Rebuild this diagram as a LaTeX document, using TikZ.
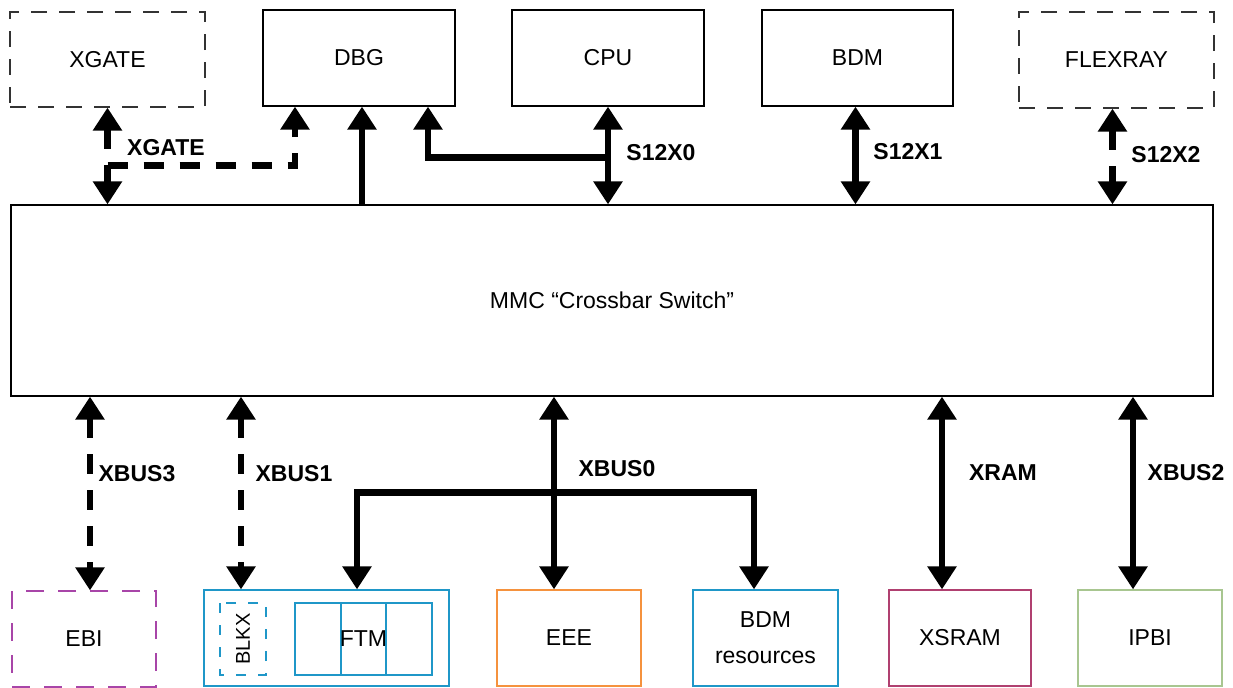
\documentclass[tikz,border=0pt]{standalone}
\usepackage{fontspec}
\setmainfont{Liberation Sans}
\usetikzlibrary{positioning, arrows.meta, calc}
\definecolor{optgray}{HTML}{333333}
\definecolor{ebicol}{HTML}{A845A8}
\definecolor{ftmcol}{HTML}{1F97C8}
\definecolor{eeecol}{HTML}{F5923E}
\definecolor{sramcol}{HTML}{B04070}
\definecolor{ipbicol}{HTML}{A8C690}
\tikzset{
  unit/.style     = {rectangle, draw=black, line width=0.6pt, minimum width=96pt,
                     minimum height=48pt, inner sep=0pt, align=center,
                     font=\fontsize{11.5}{18}\selectfont},
  optunit/.style  = {unit, draw=optgray, dash pattern=on 8pt off 6pt},
  slave/.style    = {unit, minimum width=72pt},
  cell/.style     = {rectangle, line width=0.6pt, draw=ftmcol, inner sep=0pt,
                     font=\fontsize{11.5}{14}\selectfont},
  bus/.style      = {line width=3.2pt},
  dbus/.style     = {bus, dash pattern=on 10pt off 8pt},
  buslabel/.style = {inner sep=0pt, font=\bfseries\fontsize{11.5}{14}\selectfont},
  >={Triangle[length=11.5pt,width=14pt]},
}
\begin{document}
\begin{tikzpicture}[x=0.5pt, y=-0.5pt]
  \useasboundingbox (0,0) rectangle (1233,687);

  % masters
  \node[optunit, minimum width=97.5pt, minimum height=47.5pt] (xgate) at (107.5,59.5) {XGATE};
  \node[unit] (dbg) at (359,58) {DBG};
  \node[unit] (cpu) at (608,58) {CPU};
  \node[unit, minimum width=95.5pt] (bdm) at (857.5,58) {BDM};
  \node[optunit, minimum width=97.5pt] (flexray) at (1116.5,60) {FLEXRAY};

  % crossbar
  \node[unit, minimum width=601pt, minimum height=95.5pt] (mmc) at (612,300.5) {MMC “Crossbar Switch”};

  % slaves
  \node[slave, draw=ebicol, dash pattern=on 9pt off 7pt] (ebi) at (84,639) {EBI};
  \node[slave, draw=ftmcol, minimum width=122.5pt] (ftmbox) at (326.5,638) {};
  \node[cell, dash pattern=on 5pt off 6pt, minimum width=36pt, minimum height=23pt,
        rotate=90, font=\fontsize{10}{12}\selectfont] (blkx) at (243,639) {BLKX};
  \draw[ftmcol, line width=0.6pt] (295,603) rectangle (432,675);
  \draw[ftmcol, line width=0.6pt] (341,603) -- (341,675) (386,603) -- (386,675);
  \node[inner sep=0pt, font=\fontsize{11.5}{14}\selectfont] (ftm) at (363.5,639) {FTM};
  \node[slave, draw=eeecol] (eee) at (569,638) {EEE};
  \node[slave, draw=ftmcol, minimum width=72.5pt] (bdmres) at (765.5,638) {BDM\\resources};
  \node[slave, draw=sramcol, minimum width=71pt] (xsram) at (960,638) {XSRAM};
  \node[slave, draw=ipbicol] (ipbi) at (1150,638) {IPBI};

  % upper buses
  \draw[dbus, <->] (xgate.south) -- (xgate.south |- mmc.north);
  \draw[dbus, ->] ($(xgate.south)+(0,58)$) -| ($(dbg.south)+(-64,0)$);
  \draw[bus, ->] ($(dbg.south |- mmc.north)+(3,0)$) -- ($(dbg.south)+(3,0)$);
  \draw[bus, <->] (cpu.south) -- (cpu.south |- mmc.north);
  \draw[bus, ->] ($(cpu.south)+(0,51)$) -| ($(dbg.south)+(69,0)$);
  \draw[bus, <->] ($(bdm.south)+(-2,0)$) -- ($(bdm.south |- mmc.north)+(-2,0)$);
  \draw[dbus, <->] ($(flexray.south)+(-4,0)$) -- ($(flexray.south |- mmc.north)+(-4,0)$);

  \node[buslabel] (lxgate) at (166,148) {XGATE};
  \node[buslabel] (ls0) at (661,153) {S12X0};
  \node[buslabel] (ls1) at (908,152) {S12X1};
  \node[buslabel] (ls2) at (1166,155) {S12X2};

  % lower buses
  \draw[dbus, <->] ($(ebi.north |- mmc.south)+(6,0)$) -- ($(ebi.north)+(6,0)$);
  \draw[dbus, <->] ($(blkx |- mmc.south)+(-2,0)$) -- ($(blkx |- ftmbox.north)+(-2,0)$);
  \coordinate (x0) at ($(eee.north)+(-15,0)$);
  \coordinate (x0fork) at ($(x0)+(0,-97)$);
  \draw[bus, <->] (x0 |- mmc.south) -- (x0);
  \draw[bus, ->] (x0fork) -| ($(ftmbox.north)+(30.5,0)$);
  \draw[bus, ->] (x0fork) -| ($(bdmres.north)+(-11.5,0)$);
  \draw[bus, <->] ($(xsram.north |- mmc.south)+(-18,0)$) -- ($(xsram.north)+(-18,0)$);
  \draw[bus, <->] ($(ipbi.north |- mmc.south)+(-17,0)$) -- ($(ipbi.north)+(-17,0)$);

  \node[buslabel] (lx3) at (137,474) {XBUS3};
  \node[buslabel] (lx1) at (294,474) {XBUS1};
  \node[buslabel] (lx0) at (617,469) {XBUS0};
  \node[buslabel] (lxram) at (1003,473) {XRAM};
  \node[buslabel] (lx2) at (1186,473) {XBUS2};
\end{tikzpicture}
\end{document}
